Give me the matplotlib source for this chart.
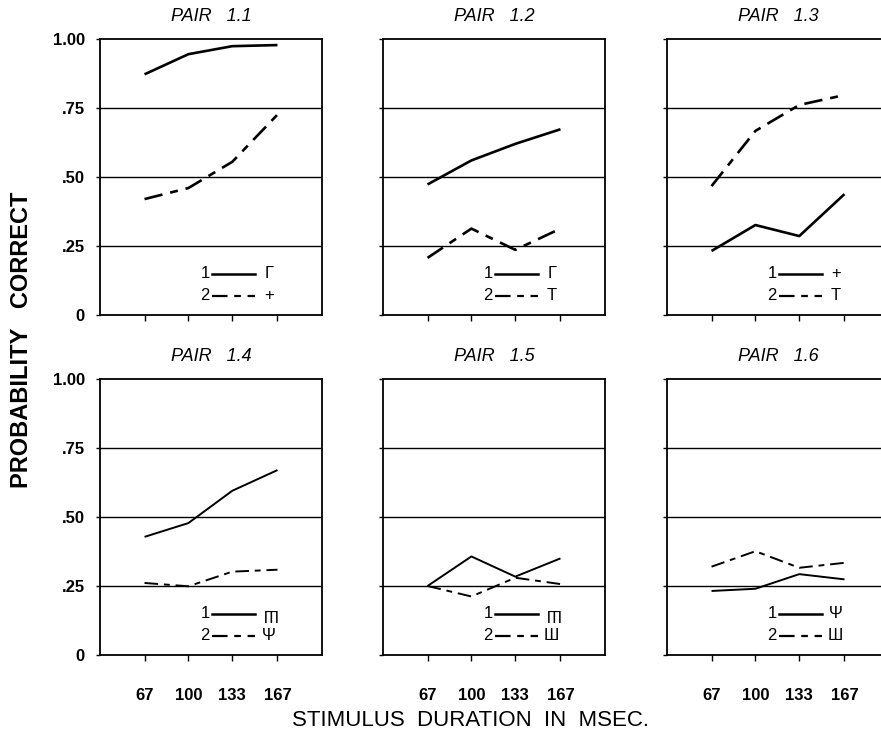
import matplotlib
matplotlib.use("Agg")
import matplotlib.pyplot as plt

plt.rcParams['font.family'] = ['Liberation Sans', 'DejaVu Sans']

durations = [67, 100, 133, 167]
xtick_labels = ["67", "100", "133", "167"]
ytick_vals = [0, 0.25, 0.5, 0.75, 1.0]
ytick_labels = ["0", ".25", ".50", ".75", "1.00"]

titles = ["PAIR   1.1", "PAIR   1.2", "PAIR   1.3", "PAIR   1.4", "PAIR   1.5", "PAIR   1.6"]

series1 = [
    [0.872, 0.945, 0.974, 0.978],
    [0.473, 0.560, 0.620, 0.673],
    [0.232, 0.326, 0.286, 0.438],
    [0.428, 0.478, 0.595, 0.670],
    [0.250, 0.357, 0.284, 0.350],
    [0.232, 0.240, 0.293, 0.274],
]
series2 = [
    [0.420, 0.460, 0.555, 0.726],
    [0.207, 0.313, 0.236, 0.313],
    [0.467, 0.667, 0.761, 0.797],
    [0.261, 0.249, 0.302, 0.309],
    [0.250, 0.212, 0.280, 0.257],
    [0.320, 0.376, 0.316, 0.334],
]
# legend glyphs: (text, rotation)
glyph1 = [("Γ", 0), ("Γ", 0), ("+", 0), ("Ш", 180), ("Ш", 180), ("Ψ", 0)]
glyph2 = [("+", 0), ("T", 0), ("T", 0), ("Ψ", 0), ("Ш", 0), ("Ш", 0)]

W, H = 881, 735
fig = plt.figure(figsize=(W / 100, H / 100), dpi=100)

lefts = [100, 383, 667]
tops = [39, 379]
aw, ah = 222, 276

dash_style = (0, (7, 3, 3, 3))

for i in range(6):
    r, c = divmod(i, 3)
    left = lefts[c]
    top = tops[r]
    ax = fig.add_axes([left / W, 1 - (top + ah) / H, aw / W, ah / H])
    ax.set_xlim(33.5, 200.5)
    ax.set_ylim(0, 1.0)
    for g in [0.25, 0.5, 0.75]:
        ax.axhline(g, color='black', lw=1.0, zorder=1)
    lw = 1.9 if r == 0 else 1.4
    ax.plot(durations, series1[i], color='black', lw=lw, solid_capstyle='butt', zorder=3)
    ax.plot(durations, series2[i], color='black', lw=lw, linestyle=dash_style, zorder=3)

    ax.set_xticks(durations)
    ax.set_yticks(ytick_vals)
    if r == 1:
        ax.set_xticklabels(xtick_labels, fontsize=12, fontweight='bold')
    else:
        ax.set_xticklabels([])
    if c == 0:
        ax.set_yticklabels(ytick_labels, fontsize=12, fontweight='bold')
    else:
        ax.set_yticklabels([])
    ax.tick_params(axis='x', direction='out', length=4, width=1.0, pad=20)
    ax.tick_params(axis='y', direction='out', length=3, width=1.0, pad=8)
    for sp in ax.spines.values():
        sp.set_linewidth(1.3)
        sp.set_color('black')
    ax.set_title(titles[i], fontsize=13, style='italic', pad=13)

    # legend block
    for row, (yy, style, g) in enumerate([(0.149, '-', glyph1[i]), (0.069, dash_style, glyph2[i])]):
        ax.text(0.495, yy, str(row + 1), transform=ax.transAxes, ha='right', va='center', fontsize=12)
        ax.plot([0.505, 0.70], [yy, yy], transform=ax.transAxes, color='black', lw=1.8 if row == 0 else 1.6,
                linestyle=style)
        ax.text(0.76, yy, g[0], transform=ax.transAxes, ha='center', va='center', fontsize=12,
                rotation=g[1])

fig.text(22 / W, 1 - 340 / H, "PROBABILITY   CORRECT", rotation=90, ha='center', va='center',
         fontsize=17, fontweight='bold')
fig.text(470 / W, 1 - 720 / H, "STIMULUS  DURATION  IN  MSEC.", ha='center', va='center', fontsize=16)

fig.savefig("out.png", dpi=100)
